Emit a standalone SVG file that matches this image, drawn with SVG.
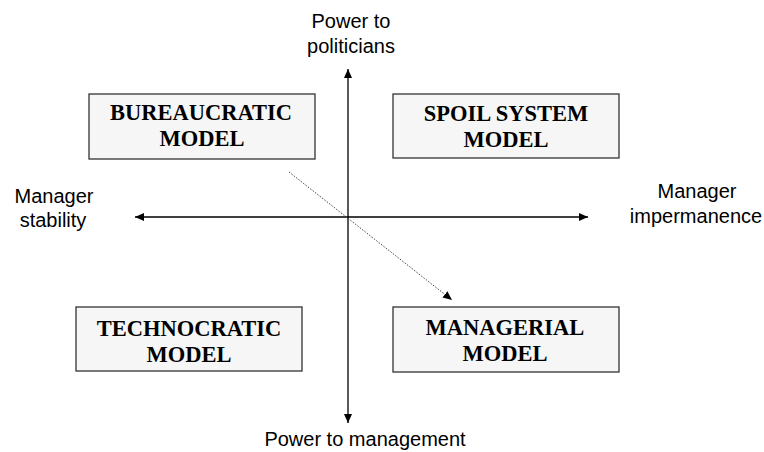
<svg xmlns="http://www.w3.org/2000/svg" width="764" height="452" viewBox="0 0 764 452">
<style>
.box{fill:#f6f6f6;stroke:#333;stroke-width:1.3}
.bt{font-family:"Liberation Serif","Times New Roman",serif;font-weight:bold;font-size:22.5px;fill:#000;text-anchor:middle}
.lt{font-family:"Liberation Sans",Arial,sans-serif;font-size:20px;fill:#000;text-anchor:middle}
.axis{stroke:#000;stroke-width:1.3;fill:none}
.dot{stroke:#444;stroke-width:1;stroke-dasharray:1.5 1.5;fill:none}
</style>
<defs>
<marker id="ah" markerWidth="10" markerHeight="8" refX="9" refY="4" orient="auto" markerUnits="userSpaceOnUse">
<path d="M0,0 L9,4 L0,8 Z" fill="#000"/>
</marker>
</defs>
<rect width="764" height="452" fill="#fff"/>
<g id="connectors">
<line class="axis" x1="348" y1="217" x2="348" y2="69" marker-end="url(#ah)"/>
<line class="axis" x1="348" y1="217" x2="348" y2="423" marker-end="url(#ah)"/>
<line class="axis" x1="348" y1="217" x2="135" y2="217" marker-end="url(#ah)"/>
<line class="axis" x1="348" y1="217" x2="588" y2="217" marker-end="url(#ah)"/>
<line class="dot" x1="289" y1="172" x2="452" y2="300" marker-end="url(#ah)"/>
</g>
<g id="bureaucratic">
<rect class="box" x="89" y="94" width="226" height="65"/>
<text class="bt" x="201" y="120">BUREAUCRATIC</text>
<text class="bt" x="202" y="146">MODEL</text>
</g>
<g id="spoil">
<rect class="box" x="393" y="94" width="226" height="64"/>
<text class="bt" x="506" y="121">SPOIL SYSTEM</text>
<text class="bt" x="506" y="147">MODEL</text>
</g>
<g id="technocratic">
<rect class="box" x="76" y="307" width="226" height="64"/>
<text class="bt" x="189" y="336">TECHNOCRATIC</text>
<text class="bt" x="189" y="362">MODEL</text>
</g>
<g id="managerial">
<rect class="box" x="393" y="307" width="226" height="65"/>
<text class="bt" x="505" y="335">MANAGERIAL</text>
<text class="bt" x="505" y="361">MODEL</text>
</g>
<g id="labels">
<text class="lt" x="351" y="28">Power to</text>
<text class="lt" x="351" y="53">politicians</text>
<text class="lt" x="365" y="446">Power to management</text>
<text class="lt" x="54" y="203">Manager</text>
<text class="lt" x="53" y="227">stability</text>
<text class="lt" x="697" y="198">Manager</text>
<text class="lt" x="696" y="223">impermanence</text>
</g>
</svg>
